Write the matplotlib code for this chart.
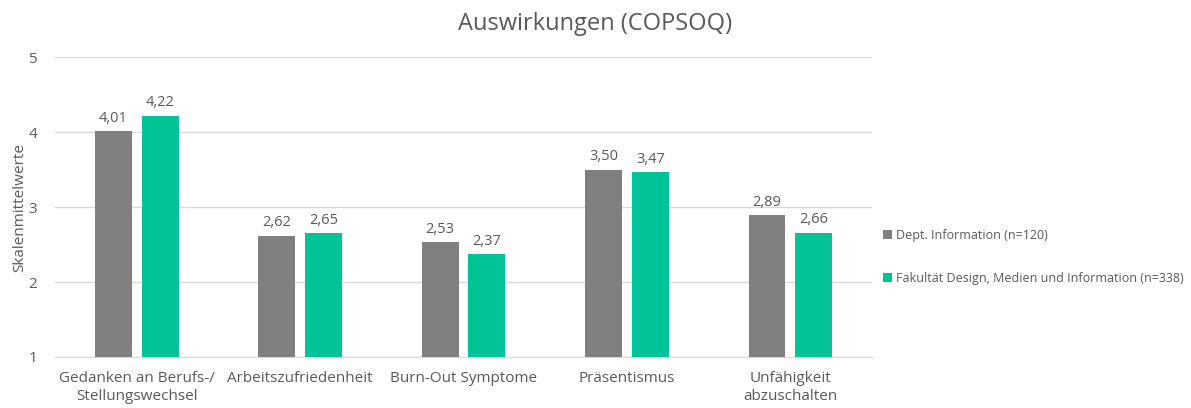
import matplotlib

matplotlib.use("Agg")
import matplotlib.pyplot as plt
import numpy as np

categories = [
    "Gedanken an Berufs-/\nStellungswechsel",
    "Arbeitszufriedenheit",
    "Burn-Out Symptome",
    "Präsentismus",
    "Unfähigkeit\nabzuschalten",
]
dept_values = [4.01, 2.62, 2.53, 3.50, 2.89]
fak_values = [4.22, 2.65, 2.37, 3.47, 2.66]
series_labels = [
    "Dept. Information (n=120)",
    "Fakultät Design, Medien und Information (n=338)",
]
yticks = [1, 2, 3, 4, 5]

GRAY = "#808080"
GREEN = "#00C497"
TEXT = "#595959"

plt.rcParams["font.family"] = ["Open Sans", "DejaVu Sans"]

fig = plt.figure(figsize=(11.91, 4.08), dpi=100)
ax = fig.add_axes([0.0462, 0.125, 0.686, 0.735])

x = np.arange(len(categories))
width = 0.226
offset = 0.143
b1 = ax.bar(x - offset, np.array(dept_values) - 1, width, bottom=1, color=GRAY,
            label=series_labels[0], zorder=3)
b2 = ax.bar(x + offset, np.array(fak_values) - 1, width, bottom=1, color=GREEN,
            label=series_labels[1], zorder=3)

for xs, vals in ((x - offset, dept_values), (x + offset, fak_values)):
    for xi, v in zip(xs, vals):
        ax.text(xi, v + 0.07, f"{v:.2f}".replace(".", ","), ha="center", va="bottom",
                fontsize=10.5, color=TEXT)

ax.set_xlim(-0.5, 4.5)
ax.set_ylim(1, 5)
ax.set_yticks(yticks)
ax.set_xticks(x)
ax.set_xticklabels(categories, fontsize=11, color=TEXT, linespacing=1.25)
ax.tick_params(axis="y", labelsize=11, labelcolor=TEXT, length=0, pad=13)
ax.tick_params(axis="x", length=0, pad=10)
ax.yaxis.grid(True, color="#D9D9D9", linewidth=1, zorder=0)
for side in ("top", "right", "left"):
    ax.spines[side].set_visible(False)
ax.spines["bottom"].set_color("#D9D9D9")
ax.set_ylabel("Skalenmittelwerte", fontsize=11, color=TEXT, labelpad=1)

fig.suptitle("Auswirkungen (COPSOQ)", x=0.5, y=0.97, fontsize=17, color=TEXT)

fig.legend(handles=[b1, b2], labels=series_labels, loc="center left",
           bbox_to_anchor=(0.732, 0.37), frameon=False, fontsize=9,
           labelcolor=TEXT, handlelength=0.7, handleheight=0.7,
           handletextpad=0.3, labelspacing=2.4)

fig.savefig("out.png", dpi=100)
